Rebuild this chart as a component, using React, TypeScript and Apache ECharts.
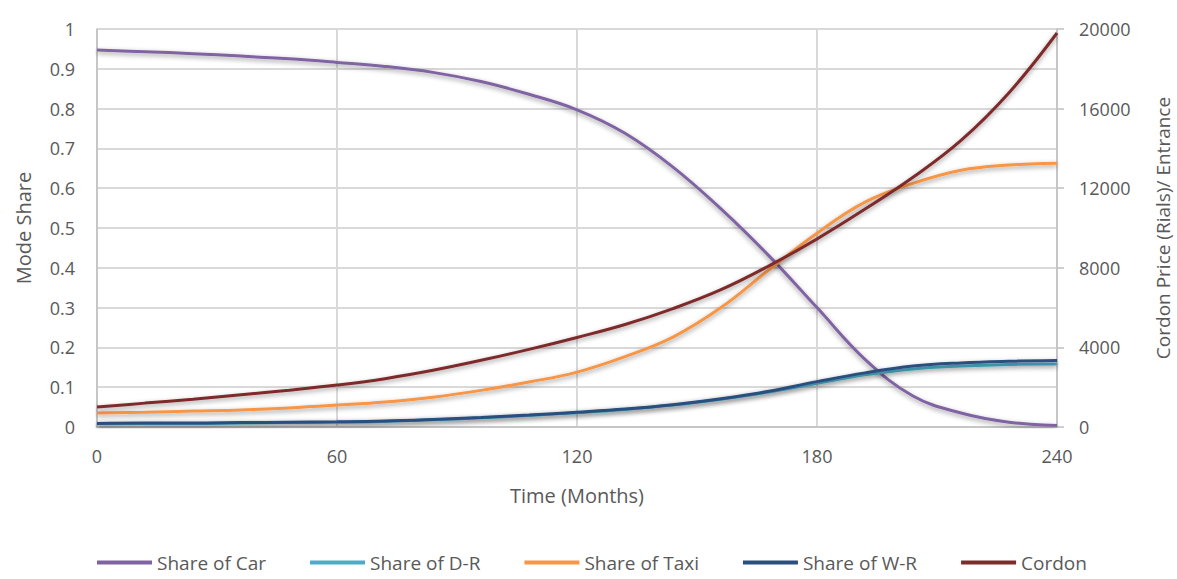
import React, { useEffect, useRef } from "react";
import * as echarts from "echarts";

const months = [0, 12, 24, 36, 48, 60, 72, 84, 96, 108, 120, 132, 144, 156, 168, 180, 192, 204, 216, 228, 240];
const shareCar = [0.947, 0.943, 0.938, 0.932, 0.925, 0.916, 0.906, 0.891, 0.868, 0.836, 0.797, 0.738, 0.653, 0.548, 0.43, 0.3, 0.17, 0.078, 0.035, 0.012, 0.004];
const shareDR = [0.008, 0.009, 0.009, 0.01, 0.011, 0.012, 0.014, 0.018, 0.023, 0.029, 0.036, 0.044, 0.055, 0.07, 0.088, 0.11, 0.131, 0.146, 0.153, 0.157, 0.158];
const shareTaxi = [0.035, 0.037, 0.04, 0.043, 0.048, 0.055, 0.063, 0.075, 0.092, 0.113, 0.138, 0.177, 0.226, 0.3, 0.395, 0.487, 0.565, 0.612, 0.645, 0.658, 0.663];
const shareWR = [0.009, 0.01, 0.01, 0.011, 0.012, 0.013, 0.015, 0.019, 0.024, 0.03, 0.037, 0.045, 0.056, 0.071, 0.09, 0.114, 0.136, 0.153, 0.161, 0.165, 0.167];
const cordon = [1000, 1200, 1400, 1620, 1850, 2110, 2430, 2850, 3350, 3900, 4500, 5150, 5950, 6900, 8100, 9450, 10950, 12550, 14400, 16800, 19800];

const seriesNames = ["Share of Car", "Share of D-R", "Share of Taxi", "Share of W-R", "Cordon"];
const seriesColors = ["#8064A2", "#4BACC6", "#F79646", "#2A4F7E", "#7E2B2B"];

const FONT = "Open Sans";
const TXT = "#595959";

export default function App() {
  const ref = useRef<HTMLDivElement>(null);
  useEffect(() => {
    if (!ref.current) return;
    const chart = echarts.init(ref.current, undefined, { renderer: "svg" });
    const datasets = [shareCar, shareDR, shareTaxi, shareWR, cordon];
    const series = datasets.map((arr, i) => ({
      name: seriesNames[i],
      type: "line",
      yAxisIndex: i === 4 ? 1 : 0,
      data: months.map((m, j) => [m, arr[j]]),
      smooth: 0.4,
      showSymbol: false,
      symbol: "none",
      lineStyle: {
        width: 3,
        color: seriesColors[i],
        shadowColor: "rgba(0,0,0,0.4)",
        shadowBlur: 5,
        shadowOffsetY: 2,
      },
      itemStyle: { color: seriesColors[i] },
    }));
    chart.setOption({
      animation: false,
      backgroundColor: "#ffffff",
      textStyle: { fontFamily: FONT, color: TXT },
      grid: { left: 97, right: 120, top: 29, bottom: 152, outerBoundsMode: "none", containLabel: false },
      legend: {
        bottom: 2,
        left: 92,
        icon: "rect",
        itemWidth: 55,
        itemHeight: 4,
        itemGap: 44,
        textStyle: { fontFamily: FONT, fontSize: 19, color: TXT },
        data: seriesNames,
      },
      xAxis: {
        type: "value",
        min: 0,
        max: 240,
        interval: 60,
        name: "Time (Months)",
        nameLocation: "middle",
        nameGap: 58,
        nameTextStyle: { fontFamily: FONT, fontSize: 20, color: TXT },
        axisLine: { show: true, lineStyle: { color: "#BFBFBF", width: 1.5 } },
        axisTick: { show: false },
        axisLabel: { margin: 20, fontSize: 18, color: TXT, fontFamily: FONT },
        splitLine: { show: true, lineStyle: { color: "#D9D9D9", width: 2 } },
      },
      yAxis: [
        {
          type: "value",
          min: 0,
          max: 1,
          interval: 0.1,
          name: "Mode Share",
          nameLocation: "middle",
          nameGap: 64,
          nameTextStyle: { fontFamily: FONT, fontSize: 20, color: TXT },
          axisLine: { show: true, lineStyle: { color: "#BFBFBF", width: 1.5 } },
          axisTick: { show: false },
          axisLabel: { margin: 22, fontSize: 18, color: TXT, fontFamily: FONT },
          splitLine: { show: true, lineStyle: { color: "#D9D9D9", width: 2 } },
        },
        {
          type: "value",
          position: "right",
          min: 0,
          max: 20000,
          interval: 4000,
          name: "Cordon Price (Rials)/ Entrance",
          nameLocation: "middle",
          nameGap: 96,
          nameRotate: 90,
          nameTextStyle: { fontFamily: FONT, fontSize: 19, color: TXT },
          axisLine: { show: true, lineStyle: { color: "#BFBFBF", width: 1.5 } },
          axisTick: { show: true, inside: false, length: 7, lineStyle: { color: "#BFBFBF", width: 1.5 } },
          axisLabel: {
            margin: 22,
            fontSize: 18,
            color: TXT,
            fontFamily: FONT,
            formatter: (v: number) => String(v),
          },
          splitLine: { show: false },
        },
      ],
      series,
    });
    return () => chart.dispose();
  }, []);
  return (
    <div
      ref={ref}
      style={{ position: "absolute", left: 0, top: 0, width: 1177, height: 579 }}
    />
  );
}
